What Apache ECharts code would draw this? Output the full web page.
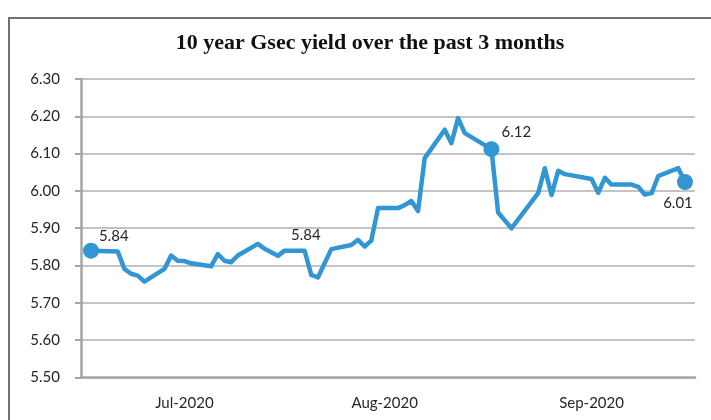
<!DOCTYPE html>
<html>
<head>
<meta charset="utf-8">
<title>10 year Gsec yield</title>
<script src="https://cdn.jsdelivr.net/npm/echarts@6/dist/echarts.min.js"></script>
<style>
  html, body { margin: 0; padding: 0; background: #fff; }
  #chart { width: 711px; height: 420px; }
</style>
</head>
<body>
<div id="chart"></div>
<script>
// month labels shown under the axis, and the day each one sits on
const monthLabels = ['Jul-2020', 'Aug-2020', 'Sep-2020']
const monthLabelDays = ['2020-07-16', '2020-08-15', '2020-09-15']

// y axis range
const yMin = 5.5
const yMax = 6.3
const yStep = 0.1

// trading days and yields (%)
const tradeDates = [
  '2020-07-02', '2020-07-06', '2020-07-07', '2020-07-08', '2020-07-09', '2020-07-10',
  '2020-07-13', '2020-07-14', '2020-07-15', '2020-07-16', '2020-07-17',
  '2020-07-20', '2020-07-21', '2020-07-22', '2020-07-23', '2020-07-24',
  '2020-07-27', '2020-07-28', '2020-07-30', '2020-07-31',
  '2020-08-03', '2020-08-04', '2020-08-05', '2020-08-07',
  '2020-08-10', '2020-08-11', '2020-08-12', '2020-08-13', '2020-08-14',
  '2020-08-17', '2020-08-18', '2020-08-19', '2020-08-20', '2020-08-21',
  '2020-08-24', '2020-08-25', '2020-08-26', '2020-08-27', '2020-08-31',
  '2020-09-01', '2020-09-03', '2020-09-07', '2020-09-08', '2020-09-09', '2020-09-10', '2020-09-11',
  '2020-09-15', '2020-09-16', '2020-09-17', '2020-09-18',
  '2020-09-21', '2020-09-22', '2020-09-23', '2020-09-24', '2020-09-25',
  '2020-09-28', '2020-09-29'
]
const yields = [
  5.840, 5.838, 5.791, 5.778, 5.773, 5.757,
  5.791, 5.827, 5.813, 5.812, 5.806,
  5.798, 5.831, 5.813, 5.809, 5.827,
  5.858, 5.845, 5.826, 5.840,
  5.840, 5.775, 5.768, 5.844,
  5.855, 5.869, 5.851, 5.867, 5.954,
  5.954, 5.962, 5.973, 5.946, 6.088,
  6.164, 6.128, 6.195, 6.155, 6.112,
  5.942, 5.900, 5.994, 6.061, 5.989, 6.054, 6.045,
  6.032, 5.995, 6.035, 6.017,
  6.017, 6.011, 5.990, 5.994, 6.040,
  6.061, 6.024
]

// highlighted points and their callout texts
const markerDates = ['2020-07-02', '2020-08-31', '2020-09-29']
const calloutDates = ['2020-07-02', '2020-07-31', '2020-08-31', '2020-09-29']
const calloutTexts = ['5.84', '5.84', '6.12', '6.01']

const LINE_BLUE = '#3296d2'
const AXIS_GREY = '#a6a6a6'
const TEXT = '#262626'
const SANS = 'Lato, "Open Sans", sans-serif'

// every calendar day of the quarter, one category each
const days = []
for (let t = Date.UTC(2020, 6, 1); t < Date.UTC(2020, 9, 1); t += 86400000) {
  days.push(new Date(t).toISOString().slice(0, 10))
}

const calloutStyle = {
  '2020-07-02': { position: 'right', distance: 0, offset: [0, -14] },
  '2020-07-31': { position: 'right', distance: 6, offset: [0, -15] },
  '2020-08-31': { position: 'right', distance: 2, offset: [0, -17] },
  '2020-09-29': { position: 'bottom', distance: 6, offset: [-7, 0] }
}

const seriesData = days.map((d) => {
  const k = tradeDates.indexOf(d)
  if (k < 0) return '-'
  const item = { value: yields[k] }
  const c = calloutDates.indexOf(d)
  if (markerDates.includes(d)) {
    item.symbol = 'circle'
    item.symbolSize = 16
  } else if (c >= 0) {
    item.symbol = 'circle'
    item.symbolSize = 1
  }
  if (c >= 0) {
    item.label = {
      show: true,
      formatter: calloutTexts[c],
      fontFamily: SANS,
      fontSize: 15,
      color: TEXT,
      ...calloutStyle[d]
    }
  }
  return item
})

const monthStarts = days.map((d, i) => (d.slice(8) === '01' ? i : -1)).filter((i) => i >= 0)

const chart = echarts.init(document.getElementById('chart'))
chart.setOption({
  animation: false,
  backgroundColor: '#fff',
  title: {
    text: '10 year Gsec yield over the past 3 months',
    left: 365,
    top: 27,
    textAlign: 'center',
    textStyle: {
      fontFamily: '"Liberation Serif", serif',
      fontWeight: 'bold',
      fontSize: 22,
      color: '#111'
    }
  },
  graphic: [
    {
      type: 'rect',
      silent: true,
      z: -10,
      shape: { x: 9, y: 18, width: 760, height: 460 },
      style: { fill: 'none', stroke: '#707070', lineWidth: 2 }
    }
  ],
  grid: { left: 81, right: 16, top: 79, bottom: 42.5 },
  xAxis: {
    type: 'category',
    data: days,
    boundaryGap: true,
    axisLine: { lineStyle: { color: AXIS_GREY, width: 2.5 } },
    axisTick: {
      interval: (i) => monthStarts.includes(i),
      length: 5,
      lineStyle: { color: AXIS_GREY, width: 2.5 }
    },
    axisLabel: {
      interval: (i, v) => monthLabelDays.includes(v),
      formatter: (v) => monthLabels[monthLabelDays.indexOf(v)] || '',
      margin: 18,
      fontFamily: SANS,
      fontSize: 15,
      color: TEXT
    },
    splitLine: { show: false }
  },
  yAxis: {
    type: 'value',
    min: yMin,
    max: yMax,
    interval: yStep,
    axisLine: { show: true, lineStyle: { color: AXIS_GREY, width: 2.5 } },
    axisTick: { show: true, length: 6, lineStyle: { color: AXIS_GREY, width: 2 } },
    axisLabel: {
      formatter: (v) => v.toFixed(2),
      margin: 21,
      fontFamily: SANS,
      fontSize: 15,
      color: TEXT
    },
    splitLine: { lineStyle: { color: '#b0b0b0', width: 1.5 } }
  },
  series: [
    {
      type: 'line',
      data: seriesData,
      connectNulls: true,
      symbol: 'none',
      showAllSymbol: true,
      lineStyle: { color: LINE_BLUE, width: 4.5, join: 'round' },
      itemStyle: { color: LINE_BLUE },
      emphasis: { disabled: true }
    }
  ]
})
</script>
</body>
</html>
